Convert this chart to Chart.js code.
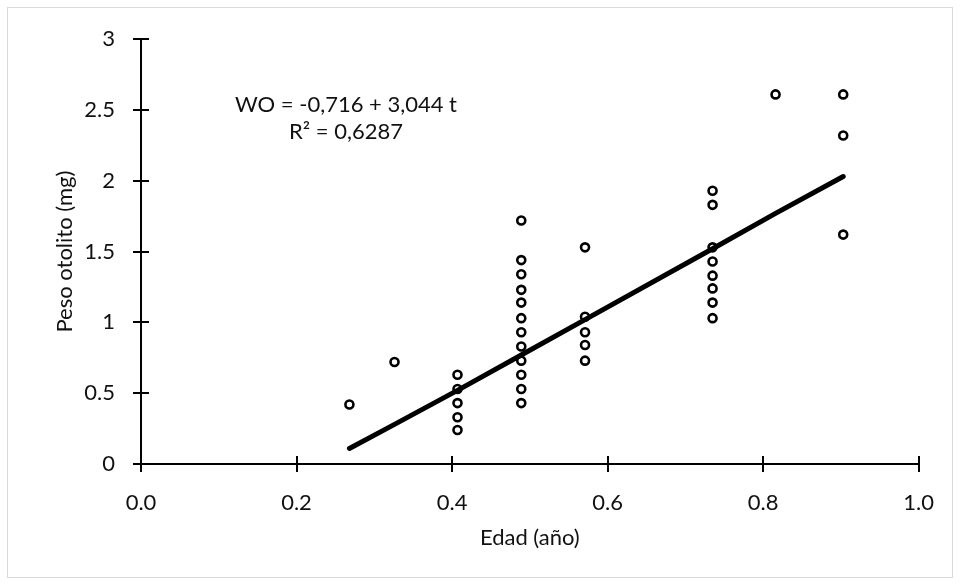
<!DOCTYPE html>
<html>
<head>
<meta charset="utf-8">
<script src="https://cdn.jsdelivr.net/npm/chart.js@4.4.1/dist/chart.umd.min.js"></script>
<style>
  html, body { margin: 0; padding: 0; background: #fff; }
</style>
</head>
<body>
<canvas id="chart" width="960" height="585"></canvas>
<script>
// Edad (año) / peso del otolito (mg)
const ageX = [
  0.268, 0.326,
  0.407, 0.407, 0.407, 0.407, 0.407,
  0.489, 0.489, 0.489, 0.489, 0.489, 0.489, 0.489, 0.489, 0.489, 0.489, 0.489, 0.489,
  0.571, 0.571, 0.571, 0.571, 0.571,
  0.735, 0.735, 0.735, 0.735, 0.735, 0.735, 0.735, 0.735,
  0.816,
  0.903, 0.903, 0.903,
];
const weightY = [
  0.42, 0.72,
  0.63, 0.53, 0.43, 0.33, 0.24,
  1.72, 1.44, 1.34, 1.23, 1.14, 1.03, 0.93, 0.83, 0.73, 0.63, 0.53, 0.43,
  1.53, 1.04, 0.93, 0.84, 0.73,
  1.93, 1.83, 1.53, 1.43, 1.33, 1.24, 1.14, 1.03,
  2.61,
  2.61, 2.32, 1.62,
];

// fitted line, read at each age
const fitX = [0.268, 0.326, 0.407, 0.489, 0.571, 0.735, 0.816, 0.903];
const fitY = [0.11, 0.28, 0.52, 0.77, 1.02, 1.52, 1.77, 2.03];

const xTicks = [0, 0.2, 0.4, 0.6, 0.8, 1.0];
const xTickLabels = ['0.0', '0.2', '0.4', '0.6', '0.8', '1.0'];
const yTicks = [0, 0.5, 1, 1.5, 2, 2.5, 3];
const yTickLabels = ['0', '0.5', '1', '1.5', '2', '2.5', '3'];

const equationLines = ['WO = -0,716 + 3,044 t', 'R² = 0,6287'];

const FONT = 'Lato, "Open Sans", sans-serif';
const TEXT = '#111';

// light frame round the whole chart, plus crossing tick marks and the equation
const decorations = {
  id: 'decorations',
  beforeDraw(chart) {
    const { ctx } = chart;
    ctx.save();
    ctx.fillStyle = '#fff';
    ctx.fillRect(0, 0, chart.width, chart.height);
    ctx.strokeStyle = '#d9d9d9';
    ctx.lineWidth = 1;
    ctx.strokeRect(7.5, 7.5, 945, 570);
    ctx.restore();
  },
  afterDraw(chart) {
    const { ctx, scales: { x, y } } = chart;
    ctx.save();
    ctx.strokeStyle = '#000';
    ctx.lineWidth = 2;
    ctx.beginPath();
    const axisY = Math.round(y.getPixelForValue(0));
    const axisX = Math.round(x.getPixelForValue(0));
    x.ticks.forEach(t => {
      const px = Math.round(x.getPixelForValue(t.value));
      ctx.moveTo(px, axisY - 8);
      ctx.lineTo(px, axisY + 8);
    });
    y.ticks.forEach(t => {
      const py = Math.round(y.getPixelForValue(t.value));
      ctx.moveTo(axisX - 8, py);
      ctx.lineTo(axisX + 8, py);
    });
    ctx.stroke();

    ctx.fillStyle = TEXT;
    ctx.font = '22px ' + FONT;
    ctx.textAlign = 'center';
    ctx.textBaseline = 'middle';
    ctx.fillText(equationLines[0], 346, 105);
    ctx.fillText(equationLines[1], 346, 132);
    ctx.restore();
  },
};

new Chart(document.getElementById('chart').getContext('2d'), {
  type: 'scatter',
  data: {
    datasets: [
      {
        label: 'Observado',
        data: ageX.map((a, i) => ({ x: a, y: weightY[i] })),
        pointStyle: 'circle',
        pointRadius: 4,
        pointBorderWidth: 2.6,
        pointBorderColor: '#000',
        pointBackgroundColor: 'rgba(0,0,0,0)',
        order: 1,
      },
      {
        label: 'Ajuste',
        type: 'line',
        data: fitX.map((a, i) => ({ x: a, y: fitY[i] })),
        showLine: true,
        borderColor: '#000',
        borderWidth: 5,
        borderCapStyle: 'round',
        borderJoinStyle: 'round',
        pointRadius: 0,
        fill: false,
        order: 2,
      },
    ],
  },
  options: {
    responsive: false,
    animation: false,
    devicePixelRatio: 1,
    layout: { padding: { top: 34, right: 34, left: 0, bottom: 0 } },
    plugins: {
      legend: { display: false },
      tooltip: { enabled: false },
    },
    scales: {
      x: {
        type: 'linear',
        min: 0,
        max: 1,
        afterBuildTicks: s => { s.ticks = xTicks.map(v => ({ value: v })); },
        afterFit: s => { s.height = 121; },
        grid: { display: false, drawTicks: false },
        border: { display: true, color: '#000', width: 2 },
        ticks: {
          padding: 26,
          color: TEXT,
          font: { family: FONT, size: 22 },
          callback: (v, i) => xTickLabels[i],
        },
        title: {
          display: true,
          text: 'Edad (año)',
          color: TEXT,
          font: { family: FONT, size: 22 },
          padding: { top: 0, bottom: 34 },
        },
      },
      y: {
        type: 'linear',
        min: 0,
        max: 3,
        afterBuildTicks: s => { s.ticks = yTicks.map(v => ({ value: v })); },
        afterFit: s => { s.width = 141; },
        grid: { display: false, drawTicks: false },
        border: { display: true, color: '#000', width: 2 },
        ticks: {
          padding: 26,
          color: TEXT,
          font: { family: FONT, size: 22 },
          callback: (v, i) => yTickLabels[i],
        },
        title: {
          display: true,
          text: 'Peso otolito (mg)',
          color: TEXT,
          font: { family: FONT, size: 22 },
          padding: { top: 52, bottom: 0 },
        },
      },
    },
  },
  plugins: [decorations],
});
</script>
</body>
</html>
